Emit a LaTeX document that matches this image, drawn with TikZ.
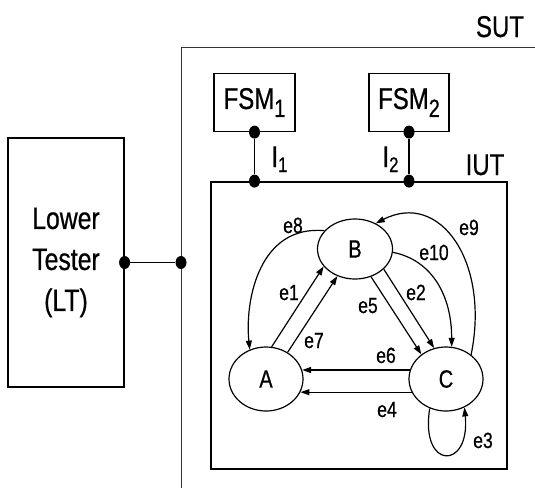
\documentclass[tikz,border=0pt]{standalone}
\usepackage{fontspec}
\setmainfont{Liberation Sans}[FakeStretch=0.8,FakeBold=0.6]
\usetikzlibrary{arrows.meta,shapes.geometric}
\begin{document}
\begin{tikzpicture}[x=1pt,y=-1pt,
  lbl/.style={inner sep=0pt, anchor=base, font=\fontsize{22}{22}\selectfont},
  big/.style={inner sep=0pt, anchor=base, font=\fontsize{30}{30}\selectfont},
  state/.style={draw, ellipse, line width=1.2pt, minimum width=74pt, minimum height=64pt, inner sep=0pt, font=\fontsize{25}{25}\selectfont},
  edge/.style={line width=1.2pt, -{Triangle[length=9pt,width=6pt]}},
  dot/.style={fill, ellipse, minimum width=11pt, minimum height=13pt, inner sep=0pt},
  box/.style={draw, line width=1.2pt, inner sep=0pt}]
\useasboundingbox (0,0) rectangle (535,488);
% SUT boundary
\draw[line width=1pt, black!80] (535,47) -| (181,488);
\node[big] (sut) at (500,37) {SUT};
% Lower tester
\node[box, minimum width=116pt, minimum height=249pt, align=center, font=\fontsize{31}{41}\selectfont] (lt) at (66,262.5) {Lower\\Tester\\(LT)};
\node[dot] (ltd) at (lt.east) {};
\node[dot] (sutd) at (181,262.5) {};
\draw[line width=1.2pt] (ltd) -- (sutd);
% FSM boxes
\node[box, minimum width=81pt, minimum height=58pt, font=\fontsize{30}{30}\selectfont] (fsm1) at (254.5,102.5) {FSM\raisebox{-8pt}{\fontsize{25}{25}\selectfont 1}};
\node[box, minimum width=80pt, minimum height=58pt, font=\fontsize{30}{30}\selectfont] (fsm2) at (409,102.5) {FSM\raisebox{-8pt}{\fontsize{25}{25}\selectfont 2}};
% IUT box
\node[box, line width=1.8pt, minimum width=296pt, minimum height=287pt] (iut) at (359,325.5) {};
\node[big] (iutl) at (485,175) {IUT};
\node[dot] (f1d) at (fsm1.south) {};
\node[dot] (f2d) at (fsm2.south) {};
\node[dot] (i1d) at (fsm1.south |- iut.north) {};
\node[dot] (i2d) at (fsm2.south |- iut.north) {};
\draw[line width=1.2pt] (f1d) -- (i1d);
\draw[line width=1.2pt] (f2d) -- (i2d);
\node[big] (i1l) at (279.5,167) {I\raisebox{-5pt}{\fontsize{21}{21}\selectfont 1}};
\node[big] (i2l) at (390.5,167) {I\raisebox{-5pt}{\fontsize{21}{21}\selectfont 2}};
% states
\node[state] (A) at (266,379) {A};
\node[state, minimum width=75pt, minimum height=60pt] (B) at (355,249) {B};
\node[state] (C) at (446,379) {C};
% edges
\draw[edge] (A.80) -- (B.209);
\draw[edge] (A.51) -- (B.237);
\draw[edge] (B.300) -- (C.135);
\draw[edge] (B.325) -- (C.111);
\draw[edge] (B.355) .. controls +(40,8) and +(0,-50) .. (C.80);
\draw[edge] (C.44) .. controls +(19,-93) and +(64,-33) .. (B.51);
\draw[edge] (B.149) .. controls +(-65,-6) and +(-5,-50) .. (A.119);
\draw[edge] (C.166) -- (A.14);
\draw[edge] (C.201) -- (A.339);
\draw[edge] (C.241) .. controls +(-10,62) and +(6,63) .. (C.303);
% edge labels
\node[lbl] (l8) at (293,233) {e8};
\node[lbl] (l9) at (469,235) {e9};
\node[lbl] (l10) at (434,260) {e10};
\node[lbl] (l1) at (289,300) {e1};
\node[lbl] (l5) at (368,313) {e5};
\node[lbl] (l2) at (416,300) {e2};
\node[lbl] (l7) at (314,348) {e7};
\node[lbl] (l6) at (386,363) {e6};
\node[lbl] (l4) at (387,417) {e4};
\node[lbl] (l3) at (483,448) {e3};
\end{tikzpicture}
\end{document}
